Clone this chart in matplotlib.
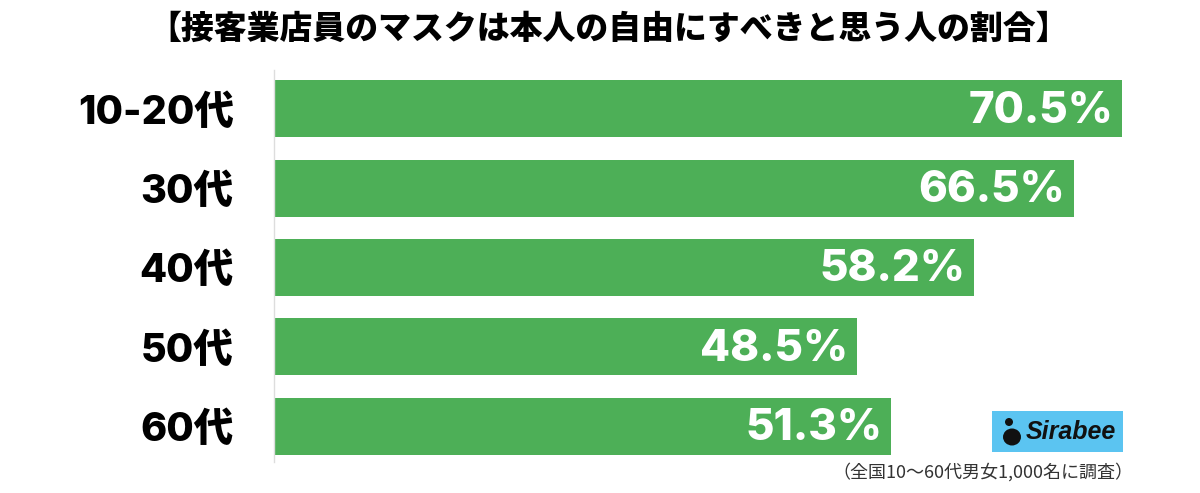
import matplotlib
matplotlib.use("Agg")
import matplotlib.pyplot as plt
from matplotlib.patches import Rectangle, Ellipse

categories = ["10-20代", "30代", "40代", "50代", "60代"]
values = [70.5, 66.5, 58.2, 48.5, 51.3]
labels = ["70.5%", "66.5%", "58.2%", "48.5%", "51.3%"]
title = "【接客業店員のマスクは本人の自由にすべきと思う人の割合】"
note = "（全国10〜60代男女1,000名に調査）"

FONTS = ["Inter", "Noto Sans CJK JP", "DejaVu Sans"]
plt.rcParams["font.family"] = FONTS

W, H = 1200, 493
fig = plt.figure(figsize=(W / 100, H / 100), dpi=100)
fig.patch.set_facecolor("white")

ax_left, ax_top, ax_bottom = 274, 70, 462
ax = fig.add_axes([ax_left / W, 1 - ax_bottom / H, 1 - ax_left / W, (ax_bottom - ax_top) / H])

px_per_unit = 12.03
ax.set_xlim(0, (W - ax_left) / px_per_unit)
step = 79.0
top_off = (108.5 - ax_top) / step
ax.set_ylim(top_off - 1 + (ax_bottom - ax_top) / step, -top_off)

green = "#4daf57"
ypos = list(range(len(categories)))
ax.barh(ypos, values, height=0.72, color=green, edgecolor="none")

for y, v, lab in zip(ypos, values, labels):
    ax.text(v - 0.75, y + 0.03, lab, ha="right", va="center", color="white",
            fontsize=31.5, fontweight="heavy", family=FONTS)

ax.set_yticks(ypos)
ax.set_yticklabels(categories, fontsize=28.5, fontweight="heavy")
ax.tick_params(axis="y", length=0, pad=29)
ax.set_xticks([])
for s in ["top", "right", "bottom"]:
    ax.spines[s].set_visible(False)
ax.spines["left"].set_color("#dddddd")
ax.spines["left"].set_linewidth(1.0)

fig.text(609 / W, 1 - 29 / H, title, ha="center", va="center", fontsize=23.7,
         fontweight="black", family=["Noto Sans CJK JP", "DejaVu Sans"])

fig.text(1133 / W, 1 - 472 / H, note, ha="right", va="center", fontsize=13,
         family=["Noto Sans CJK JP", "DejaVu Sans"], color="#333333")

# Sirabee logo box
bx0, by0, bx1, by1 = 992, 411, 1123, 452
fig.patches.append(Rectangle((bx0 / W, 1 - by1 / H), (bx1 - bx0) / W, (by1 - by0) / H,
                             transform=fig.transFigure, facecolor="#5bc4f1", edgecolor="none"))
fig.patches.append(Ellipse((1012 / W, 1 - 437 / H), 18 / W, 17 / H, transform=fig.transFigure,
                           facecolor="#111111", edgecolor="none"))
fig.patches.append(Ellipse((1009 / W, 1 - 422 / H), 8 / W, 8 / H, transform=fig.transFigure,
                           facecolor="#111111", edgecolor="none"))
fig.text(1026 / W, 1 - 432 / H, "Sirabee", ha="left", va="center", fontsize=18,
         fontweight="bold", style="italic", color="#111111", family=["Liberation Sans"])

fig.savefig("out.png", dpi=100, facecolor="white")
